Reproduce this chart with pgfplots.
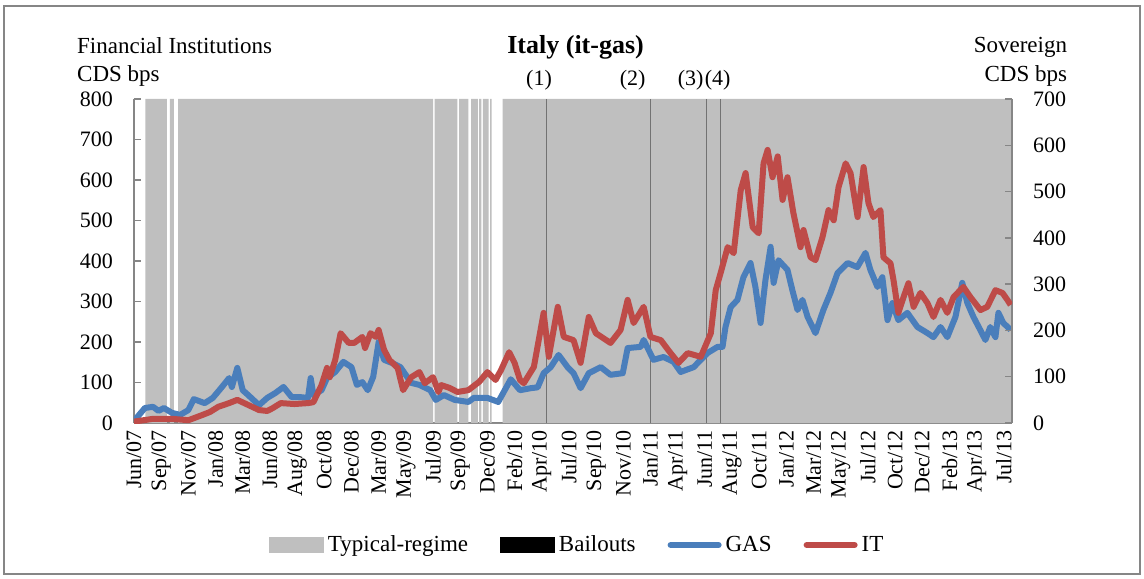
\documentclass[border=0pt]{standalone}
\usepackage{fontspec}
\setmainfont{Liberation Serif}
\usepackage{pgfplots}
\usepackage{pgfplotstable}
\pgfplotsset{compat=1.18}
\definecolor{regime}{HTML}{BFBFBF}
\definecolor{gasblue}{HTML}{4A7EBB}
\definecolor{itred}{HTML}{BE4B48}
\definecolor{axgray}{HTML}{868686}

\pgfplotstableread{
w v
0 5
4 37
7 40
9 30
11 37
14 25
17 20
20 32
22 59
26 49
29 62
32 86
35 111
36 89
38 136
40 81
42 69
46 44
49 62
52 74
55 89
58 64
61 64
64 62
65 111
66 69
69 81
71 111
74 126
77 151
80 138
82 94
84 101
86 81
88 114
90 200
92 156
95 148
98 138
102 99
105 94
109 81
111 57
114 69
118 57
123 52
125 62
130 62
134 52
138.6 108
142 81
146 86
148.5 88
150.7 123
153.3 138
156.2 168
159.5 138
161.7 123
164.3 86
167.3 123
171.7 138
175.3 119
179.8 123
181.6 185
186.4 188
187.5 205
191.1 156
194.8 163
198.5 151
201.1 126
205.9 138
211 173
214.7 188
216.5 188
217.6 237
219.5 286
222 304
224.2 360
226.8 395
228.6 336
230.5 247
232.3 353
234.2 435
235.3 346
237.1 402
240.4 378
242.2 328
244.1 279
245.9 304
247.8 262
250.7 222
253.6 279
256.2 321
258.8 370
262.5 395
266.1 385
269.1 420
270.9 378
273.5 336
275.3 360
277.2 254
279 296
281.2 254
284.5 272
288.2 237
291.9 222
294.1 212
296.7 237
299.2 212
302.2 262
304.7 346
306.6 296
308.8 262
311.3 230
313.2 205
315 237
316.9 212
318 272
319.8 247
322.5 230
}\gasdata

\pgfplotstableread{
w v
0 3
7 9
14 9
20 6
25 17
28 24
31 35
35 43
38 50
42 39
46 28
49 26
51 32
54 43
59 41
64 43
66 45
69 82
71 119
72 99
74 136
76 194
79 173
81 173
84 186
85 162
87 194
89 186
90 201
92 158
94 136
97 119
99 71
102 99
105 110
107 86
110 99
112 67
113 82
116 76
119 67
123 71
127 89
130 110
133 93
135 114
138 153
140 130
142 93
143.4 86
147.1 121
150.7 238
152.6 143
155.9 251
158.1 186
161.7 179
164.3 130
167.3 229
169.9 194
175.3 173
179 201
181.6 266
183.8 216
187.5 251
190 186
193.8 179
197.4 151
200.3 130
203.7 151
208.5 143
212.2 194
214 287
215.8 324
218.4 380
220.6 367
223.2 503
225 540
227.6 423
229.8 410
231.6 561
233.1 590
234.9 531
236.8 576
238.6 482
240.4 531
242.6 453
245.2 380
246.3 417
248.9 358
250.7 352
253.3 402
255.5 460
257.4 438
259.2 510
261.8 561
263.6 540
266.2 445
268.4 553
270.2 475
272 445
274.6 460
275.7 358
278.3 345
279.4 309
281.2 238
283.1 272
284.9 302
286.8 251
289.3 281
291.9 259
294.1 229
296.7 266
299.2 238
301.5 272
305.1 294
307.7 272
311.4 244
313.9 251
316.9 287
319.5 281
321.3 266
322.5 255
}\itdata

\begin{document}
\begin{tikzpicture}[font=\fontsize{11.5}{13.8}\selectfont]
\path (-67pt,-77.5pt) rectangle (505pt,211.5pt);
\draw[axgray, line width=0.6pt] (-65pt,-75.5pt) rectangle (503pt,208.5pt);
\begin{axis}[
  at={(0pt,0pt)}, anchor=south west,
  scale only axis, width=439pt, height=162pt,
  xmin=0, xmax=323, ymin=0, ymax=800,
  axis x line*=bottom, axis y line*=left,
  axis line style={axgray, line width=0.75pt},
  tick align=inside, major tick length=3.5pt,
  xtick={0,10,...,320},
  xticklabels={Jun/07,Sep/07,Nov/07,Jan/08,Mar/08,Jun/08,Aug/08,Oct/08,Dec/08,Mar/09,May/09,Jul/09,Sep/09,Dec/09,Feb/10,Apr/10,Jul/10,Sep/10,Nov/10,Jan/11,Apr/11,Jun/11,Aug/11,Oct/11,Jan/12,Mar/12,May/12,Jul/12,Oct/12,Dec/12,Feb/13,Apr/13,Jul/13},
  xticklabel style={rotate=90, anchor=east, font=\fontsize{11}{13}\selectfont},
  x tick style={draw=none},
  ytick={0,100,...,800},
  y tick style={axgray, line width=0.75pt},
  yticklabel style={font=\fontsize{11}{13}\selectfont, xshift=-7pt},
  /pgf/number format/assume math mode=true,
]
\addplot[const plot, fill=regime, draw=none] coordinates {
  (0,0) (4.2,800) (12.1,0) (13.2,800) (14.7,0) (16.2,800)
  (110,0) (110.6,800) (119,0) (119.6,800) (123,0) (124,800)
  (126.5,0) (127,800) (127.8,0) (128.3,800) (130.5,0) (131,800)
  (131.6,0) (135.6,800) (323,800)} \closedcycle;
\addplot[ycomb, draw=axgray!85!black, line width=0.45pt] coordinates {
  (151.8,800) (190,800) (210.6,800) (215.8,800)};
\addplot[gasblue, line width=3pt, line join=round] table[x=w, y=v] {\gasdata};
\end{axis}
\begin{axis}[
  at={(0pt,0pt)}, anchor=south west,
  scale only axis, width=439pt, height=162pt,
  xmin=0, xmax=323, ymin=0, ymax=700,
  axis x line=none, axis y line*=right,
  axis line style={axgray, line width=0.75pt},
  tick align=inside, major tick length=3.5pt,
  ytick={0,100,...,700},
  y tick style={axgray, line width=0.75pt},
  yticklabel style={font=\fontsize{11}{13}\selectfont, xshift=7pt},
  /pgf/number format/assume math mode=true,
  legend style={at={(0.506,-0.3765)}, anchor=center, draw=none, fill=none,
    legend columns=4, font=\fontsize{11.5}{13.8}\selectfont,
    /tikz/every even column/.append style={column sep=14pt}},
]
\addlegendimage{legend image code/.code={\fill[regime] (0pt,-3.75pt) rectangle (27pt,3.75pt);}}
\addlegendentry{Typical-regime}
\addlegendimage{legend image code/.code={\fill[black] (0pt,-3.75pt) rectangle (27pt,3.75pt);}}
\addlegendentry{Bailouts}
\addlegendimage{legend image code/.code={\draw[gasblue, line width=3pt, line cap=round] (1.5pt,0pt) -- (25.5pt,0pt);}}
\addlegendentry{GAS}
\addplot[itred, line width=3pt, line join=round,
  legend image code/.code={\draw[itred, line width=3pt, line cap=round] (1.5pt,0pt) -- (25.5pt,0pt);}]
  table[x=w, y=v] {\itdata};
\addlegendentry{IT}
\end{axis}
\node[anchor=base west, inner sep=0pt] at (-28.6pt,184.9pt) {Financial Institutions};
\node[anchor=base west, inner sep=0pt] at (-28.6pt,170.7pt) {CDS bps};
\node[anchor=base, inner sep=0pt, font=\fontsize{13}{15}\selectfont\bfseries] at (220.8pt,184.5pt) {Italy (it-gas)};
\node[anchor=base east, inner sep=0pt] at (466.7pt,185pt) {Sovereign};
\node[anchor=base east, inner sep=0pt] at (466.7pt,170.7pt) {CDS bps};
\begin{scope}[every node/.style={anchor=base, inner sep=0pt, font=\fontsize{11}{13}\selectfont}]
\node at (202.5pt,168.5pt) {(1)};
\node at (249.3pt,168.5pt) {(2)};
\node at (278.3pt,168.5pt) {(3)};
\node at (291.8pt,168.5pt) {(4)};
\end{scope}
\end{tikzpicture}
\end{document}
